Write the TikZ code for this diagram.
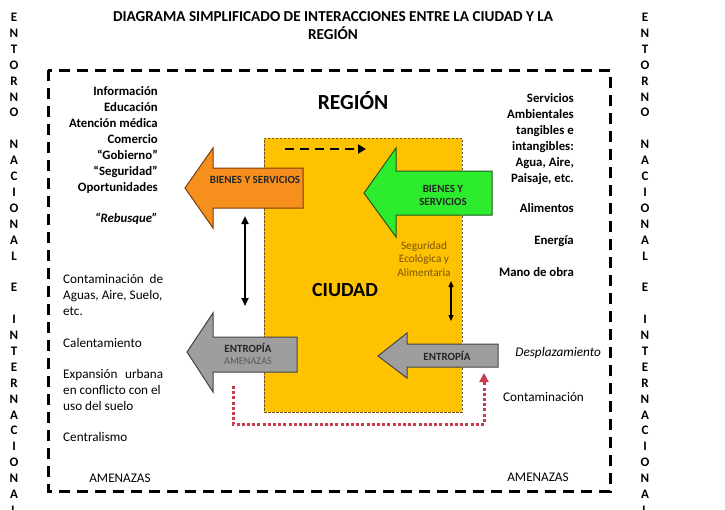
\documentclass[tikz,border=0pt]{standalone}
\usepackage{fontspec}
\setmainfont{Carlito}
\usetikzlibrary{arrows.meta}
\definecolor{cityyellow}{RGB}{255,194,0}
\definecolor{cityedge}{RGB}{110,85,40}
\definecolor{arrorange}{RGB}{247,143,30}
\definecolor{orangeedge}{RGB}{120,60,10}
\definecolor{arrgreen}{RGB}{45,235,45}
\definecolor{greenedge}{RGB}{30,90,30}
\definecolor{arrgray}{RGB}{158,158,158}
\definecolor{grayedge}{RGB}{70,70,70}
\definecolor{reddot}{RGB}{200,60,75}
\definecolor{seguridad}{RGB}{125,85,10}
\begin{document}
\begin{tikzpicture}[x=1pt,y=-1pt,
  boldtxt/.style={font=\fontsize{12.8}{16}\selectfont\bfseries, inner sep=0pt},
  regtxt/.style={font=\fontsize{13.2}{16}\selectfont, inner sep=0pt},
  lettr/.style={font=\fontsize{13}{14}\selectfont\bfseries, inner sep=0pt, anchor=base},
  arrtxt/.style={font=\fontsize{11}{13}\selectfont\bfseries, inner sep=0pt, text=black!85},
  bigarrow/.style={line width=1pt, line join=miter},
  dbl/.style={line width=2pt, {Triangle[length=8pt,width=7pt]}-{Triangle[length=8pt,width=7pt]}},
]
\useasboundingbox (0,0) rectangle (725,509);
\fill[white] (0,0) rectangle (725,509);

% title
\node[font=\fontsize{15.2}{18}\selectfont\bfseries, align=center, inner sep=0pt] (title) at (333,26)
  {DIAGRAMA SIMPLIFICADO DE INTERACCIONES ENTRE LA CIUDAD Y LA\\REGIÓN};

% vertical letter columns
\foreach \i/\l in {0/E,1/N,2/T,3/O,4/R,5/N,6/O,8/N,9/A,10/C,11/I,12/O,13/N,14/A,15/L,17/E,19/I,20/N,21/T,22/E,23/R,24/N,25/A,26/C,27/I,28/O,29/N,30/A,31/L}{
  \node[lettr] (lft\i) at (14,21.5+15.9*\i) {\l};
  \node[lettr] (rgt\i) at (645,21.5+15.9*\i) {\l};
}

% outer dashed region border
\draw[line width=3pt, dash pattern=on 11pt off 7pt] (48,70) rectangle (610,491);

% city box
\node[draw=cityedge, fill=cityyellow, line width=0.8pt, dash pattern=on 2.5pt off 1.5pt,
      minimum width=198pt, minimum height=274pt, inner sep=0pt] (city) at (363,275) {};

\node[font=\fontsize{21.5}{24}\selectfont\bfseries, inner sep=0pt] (region) at (353,101) {REGIÓN};
\node[font=\fontsize{20}{24}\selectfont\bfseries, inner sep=0pt] (ciudad) at (345,290) {CIUDAD};

% dashed black arrow on top of the city
\coordinate (da1) at (285,149);
\coordinate (da2) at (366,149);
\draw[line width=2.5pt, dash pattern=on 9pt off 6pt, -{Triangle[length=8pt,width=9pt]}] (da1) -- (da2);

% orange arrow
\draw[bigarrow, fill=arrorange, draw=orangeedge] (185,188) -- (213,148) -- (213,168) -- (303,168) -- (303,208) -- (213,208) -- (213,228) -- cycle;
\node[arrtxt] (bsleft) at (255,180) {BIENES Y SERVICIOS};

% green arrow
\draw[bigarrow, fill=arrgreen, draw=greenedge] (364,193) -- (396,148) -- (396,171) -- (492,171) -- (492,215) -- (396,215) -- (396,237) -- cycle;
\node[arrtxt, align=center, font=\fontsize{11}{13.5}\selectfont\bfseries] (bsright) at (443,195.5) {BIENES Y\\SERVICIOS};

% gray left arrow
\draw[bigarrow, fill=arrgray, draw=grayedge] (187,352) -- (213,313) -- (213,337) -- (297,337) -- (297,372) -- (213,372) -- (213,392) -- cycle;
\node[arrtxt] (entl) at (248,348) {ENTROPÍA};
\node[font=\fontsize{10.3}{12}\selectfont, inner sep=0pt, text=black!65] (amenl) at (248,361) {AMENAZAS};

% gray right arrow
\draw[bigarrow, fill=arrgray, draw=grayedge] (378,356) -- (407,333) -- (407,344) -- (498,344) -- (498,367) -- (407,367) -- (407,378) -- cycle;
\node[arrtxt] (entr) at (447,356) {ENTROPÍA};

% double arrows
\coordinate (dl1) at (245,216);
\coordinate (dl2) at (245,306);
\draw[dbl] (dl1) -- (dl2);
\coordinate (dr1) at (451,281);
\coordinate (dr2) at (451,321);
\draw[line width=1.2pt, {Triangle[length=6pt,width=5pt]}-{Triangle[length=6pt,width=5pt]}] (dr1) -- (dr2);

\node[font=\fontsize{11.3}{13.5}\selectfont, text=seguridad, align=center, inner sep=0pt] (segur) at (424,259)
  {Seguridad\\Ecológica y\\Alimentaria};

% red dotted connector
\coordinate (rd1) at (233,386);
\coordinate (rd2) at (484,424);
\coordinate (rd3) at (484,373);
\draw[reddot, line width=3pt, dash pattern=on 3pt off 2.2pt, -{Triangle[length=9pt,width=9pt]}] (rd1) |- (rd2) -- (rd3);

% left upper list
\foreach \y/\t [count=\k] in {91/Información,107/Educación,123/Atención médica,139/Comercio,155/“Gobierno”,171/“Seguridad”,187/Oportunidades}{
  \node[boldtxt, anchor=base east] (lu\k) at (158,\y+4) {\t};
}
\node[boldtxt, anchor=base east] (rebus) at (158,222) {\itshape “Rebusque”};

% left lower list
\node[regtxt, anchor=base west, text width=100pt, align=left] (ll1) at (63,283) {Contaminación\hfill de};
\node[regtxt, anchor=base west] (ll2) at (63,299) {Aguas, Aire, Suelo,};
\node[regtxt, anchor=base west] (ll3) at (63,315) {etc.};
\node[regtxt, anchor=base west] (ll4) at (63,347) {Calentamiento};
\node[regtxt, anchor=base west, text width=100pt, align=left] (ll5) at (63,378) {Expansión\hfill urbana};
\node[regtxt, anchor=base west] (ll6) at (63,394) {en conflicto con el};
\node[regtxt, anchor=base west] (ll7) at (63,410) {uso del suelo};
\node[regtxt, anchor=base west] (ll8) at (63,441) {Centralismo};
\node[regtxt, anchor=base] (amenazasl) at (120,482) {AMENAZAS};

% right upper list
\foreach \y/\t [count=\k] in {98/Servicios,114/Ambientales,130/tangibles e,146/intangibles:,162/{Agua, Aire,},178/{Paisaje, etc.},208/Alimentos,240/Energía,272/Mano de obra}{
  \node[boldtxt, anchor=base east] (ru\k) at (574,\y+4) {\t};
}

% right lower list
\node[regtxt, anchor=base east] (despl) at (601,356) {\itshape Desplazamiento};
\node[regtxt, anchor=base west] (contr) at (503,401) {Contaminación};
\node[regtxt, anchor=base] (amenazasr) at (538,481) {AMENAZAS};
\end{tikzpicture}
\end{document}
